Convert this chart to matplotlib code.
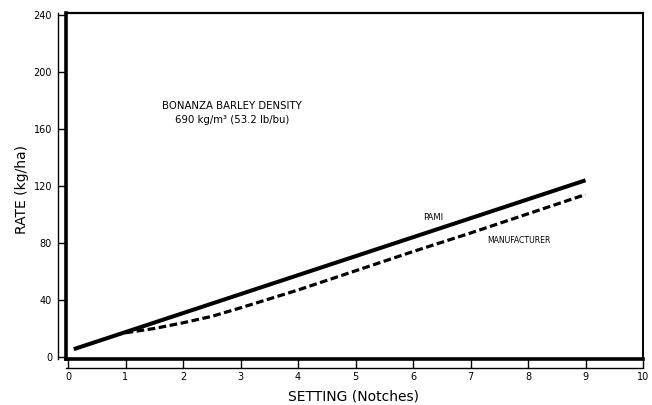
import matplotlib
matplotlib.use("Agg")
import matplotlib.pyplot as plt

# seeding rate vs. metering setting, Bonanza barley
pami_setting = [0.1, 9.0]
pami_rate = [5.5, 124.0]

mfr_setting = [1.0, 1.5, 2.0, 2.5, 3.0, 4.0, 5.0, 6.0, 7.0, 8.0, 9.0]
mfr_rate = [17.0, 20.0, 24.0, 28.5, 34.5, 47.0, 60.5, 74.0, 87.0, 100.5, 114.0]

x_ticks = list(range(0, 11))
y_ticks = [0, 40, 80, 120, 160, 200, 240]

plt.rcParams['font.family'] = ['DejaVu Sans']

fig = plt.figure(figsize=(6.52, 4.05), dpi=100)
pos = [66 / 652, 46 / 405, 577 / 652, 346 / 405]
xlim = (-0.035, 10.0)
ylim = (-1.4, 241.4)

# inner box with the curves
ax = fig.add_axes(pos)
ax.set_xlim(*xlim)
ax.set_ylim(*ylim)
ax.set_xticks([])
ax.set_yticks([])
ax.spines['left'].set_linewidth(2.6)
ax.spines['bottom'].set_linewidth(2.6)
ax.spines['top'].set_linewidth(1.6)
ax.spines['right'].set_linewidth(1.4)

ax.plot(pami_setting, pami_rate, color='black', lw=2.9, solid_capstyle='butt')
ax.plot(mfr_setting, mfr_rate, color='black', lw=2.3, linestyle=(0, (2.4, 1.1)))

ax.text(2.85, 176, 'BONANZA BARLEY DENSITY', ha='center', va='center', fontsize=7.3)
ax.text(2.85, 166, '690 kg/m\u00b3 (53.2 lb/bu)', ha='center', va='center', fontsize=7.3)
ax.text(6.35, 98, 'PAMI', ha='center', va='center', fontsize=6)
ax.text(7.85, 82, 'MANUFACTURER', ha='center', va='center', fontsize=5.6)

# scale axes drawn just outside the box
sc = fig.add_axes(pos, facecolor='none')
sc.set_xlim(*xlim)
sc.set_ylim(*ylim)
for side in ['top', 'right']:
    sc.spines[side].set_visible(False)
sc.spines['left'].set_position(('outward', 6))
sc.spines['bottom'].set_position(('outward', 6.5))
sc.spines['left'].set_linewidth(1.0)
sc.spines['bottom'].set_linewidth(1.0)
sc.set_xticks(x_ticks)
sc.set_yticks(y_ticks)
sc.tick_params(axis='y', direction='in', length=6, width=1.0, labelsize=7, pad=4)
sc.tick_params(axis='x', direction='in', length=6.5, width=1.0, labelsize=7, pad=3)

fig.text(22 / 652, 1 - 190 / 405, 'RATE (kg/ha)', rotation=90, ha='center', va='center', fontsize=10)
fig.text(353 / 652, 1 - 396 / 405, 'SETTING (Notches)', ha='center', va='center', fontsize=10)

fig.savefig('out.png', dpi=100, facecolor='white')
